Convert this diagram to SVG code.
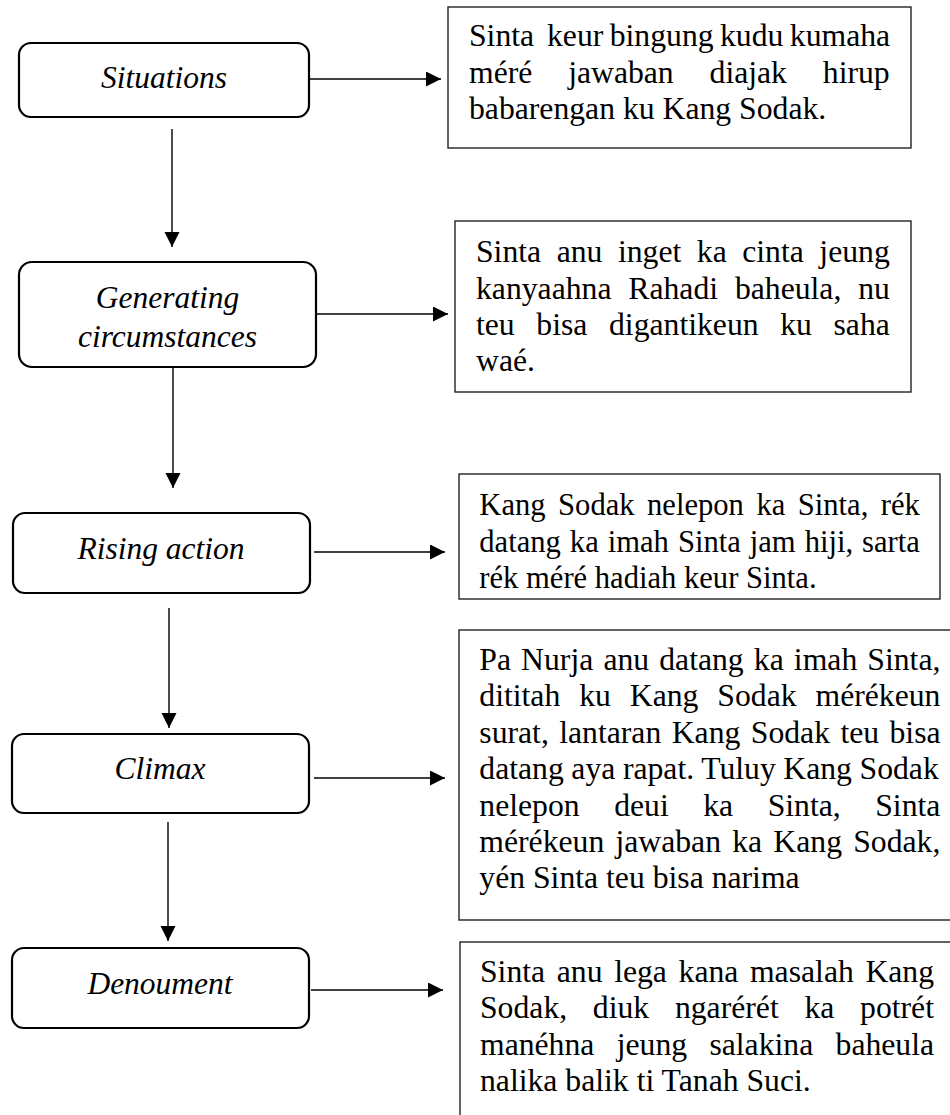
<svg xmlns="http://www.w3.org/2000/svg" width="950" height="1115" viewBox="0 0 950 1115">
<style>
.node rect{fill:#fff;stroke:#000;stroke-width:2.2}
.lbl{font-family:"Liberation Serif","Times New Roman",serif;font-style:italic;font-size:31.5px;fill:#000;text-anchor:middle}
.desc rect{fill:#fff;stroke:#222;stroke-width:1.4}
.txt{font-family:"Liberation Serif","Times New Roman",serif;font-size:31.7px;fill:#000}
.sm{font-size:30.6px}
.conn line{stroke:#000;stroke-width:1.4;fill:none}
</style>
<defs>
<marker id="ah" markerUnits="userSpaceOnUse" markerWidth="16" markerHeight="16" refX="15" refY="7.5" orient="auto">
<path d="M0,0 L15,7.5 L0,15 Z" fill="#000"/>
</marker>
</defs>
<g id="n-situations" class="node">
<rect x="19" y="43" width="290" height="74" rx="12"/>
<text class="lbl" x="164" y="88">Situations</text>
</g>
<g id="n-generating" class="node">
<rect x="19" y="262" width="297" height="105" rx="13"/>
<text class="lbl" x="167.5" y="308">Generating</text>
<text class="lbl" x="167.5" y="347">circumstances</text>
</g>
<g id="n-rising" class="node">
<rect x="13" y="513" width="297" height="80" rx="12"/>
<text class="lbl" x="161" y="559">Rising action</text>
</g>
<g id="n-climax" class="node">
<rect x="12" y="734" width="297" height="79" rx="12"/>
<text class="lbl" x="160" y="779">Climax</text>
</g>
<g id="n-denoument" class="node">
<rect x="12" y="948" width="297" height="80" rx="12"/>
<text class="lbl" x="160" y="994">Denoument</text>
</g>
<g id="d-situations" class="desc">
<rect x="448" y="7" width="463" height="141"/>
<text class="txt" x="469" y="46" word-spacing="-1.5">Sinta&#160; keur bingung kudu kumaha</text>
<text class="txt" x="469" y="82.7" word-spacing="27.9">méré jawaban diajak hirup</text>
<text class="txt" x="469" y="119.4">babarengan ku Kang Sodak.</text>
</g>
<g id="d-generating" class="desc">
<rect x="455" y="221" width="456" height="171"/>
<text class="txt" x="476" y="262" word-spacing="7.6">Sinta anu inget ka cinta jeung</text>
<text class="txt" x="476" y="298.5" word-spacing="8.9">kanyaahna Rahadi baheula, nu</text>
<text class="txt" x="476" y="335" word-spacing="13.7">teu bisa digantikeun ku saha</text>
<text class="txt" x="476" y="371">waé.</text>
</g>
<g id="d-rising" class="desc">
<rect x="459" y="474" width="481" height="125"/>
<text class="txt sm" x="479.3" y="515" word-spacing="4.86">Kang Sodak nelepon ka Sinta, rék</text>
<text class="txt sm" x="479.3" y="551.7" word-spacing="1.35">datang ka imah Sinta jam hiji, sarta</text>
<text class="txt sm" x="479.3" y="588.3">rék méré hadiah keur Sinta.</text>
</g>
<g id="d-climax" class="desc">
<rect x="459" y="630" width="520" height="290"/>
<text class="txt" x="479.3" y="670" word-spacing="2.2">Pa Nurja anu datang ka imah Sinta,</text>
<text class="txt" x="479.3" y="706.4" word-spacing="11">dititah ku Kang Sodak mérékeun</text>
<text class="txt" x="479.3" y="742.8" word-spacing="2.5">surat, lantaran Kang Sodak teu bisa</text>
<text class="txt" x="479.3" y="779.2" word-spacing="-0.34">datang aya rapat. Tuluy Kang Sodak</text>
<text class="txt" x="479.3" y="815.6" word-spacing="26.6">nelepon deui ka Sinta, Sinta</text>
<text class="txt" x="479.3" y="852" word-spacing="3.3">mérékeun jawaban ka Kang Sodak,</text>
<text class="txt" x="479.3" y="888.4">yén Sinta teu bisa narima</text>
</g>
<g id="d-denoument" class="desc">
<rect x="460" y="942" width="520" height="200"/>
<text class="txt" x="480" y="982" word-spacing="3.7">Sinta anu lega kana masalah Kang</text>
<text class="txt" x="480" y="1018.3" word-spacing="17.8">Sodak, diuk ngarérét ka potrét</text>
<text class="txt" x="480" y="1054.6" word-spacing="14.4">manéhna jeung salakina baheula</text>
<text class="txt" x="480" y="1091">nalika balik ti Tanah Suci.</text>
</g>
<g id="connectors" class="conn">
<line x1="310" y1="79" x2="441" y2="79" marker-end="url(#ah)"/>
<line x1="316" y1="314" x2="448" y2="314" marker-end="url(#ah)"/>
<line x1="314" y1="552" x2="445" y2="552" marker-end="url(#ah)"/>
<line x1="314" y1="778" x2="445" y2="778" marker-end="url(#ah)"/>
<line x1="311" y1="990" x2="443" y2="990" marker-end="url(#ah)"/>
<line x1="172" y1="129" x2="172" y2="247" marker-end="url(#ah)"/>
<line x1="173" y1="368" x2="173" y2="488" marker-end="url(#ah)"/>
<line x1="169" y1="608" x2="169" y2="728" marker-end="url(#ah)"/>
<line x1="168" y1="822" x2="168" y2="941" marker-end="url(#ah)"/>
</g>
</svg>
